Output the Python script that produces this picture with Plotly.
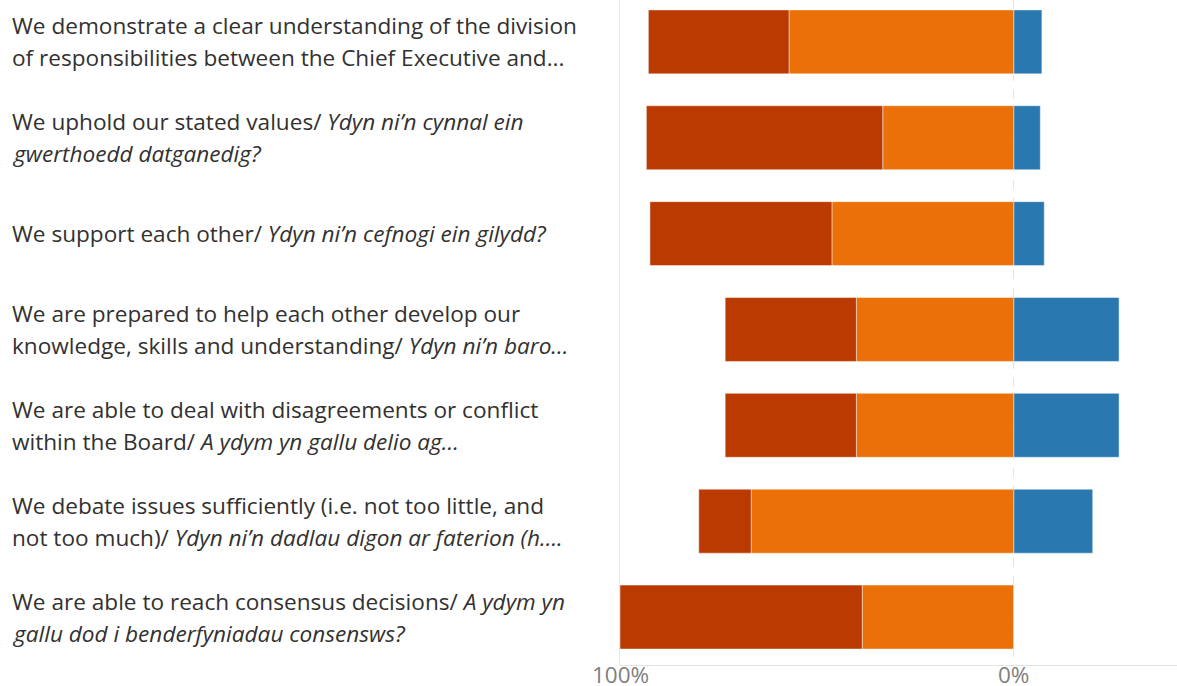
import plotly.graph_objects as go

questions = [
    "We demonstrate a clear understanding of the division<br>of responsibilities between the Chief Executive and...",
    "We uphold our stated values/ <i>Ydyn ni’n cynnal ein</i><br><i>gwerthoedd datganedig?</i>",
    "We support each other/ <i>Ydyn ni’n cefnogi ein gilydd?</i>",
    "We are prepared to help each other develop our<br>knowledge, skills and understanding/ <i>Ydyn ni’n baro...</i>",
    "We are able to deal with disagreements or conflict<br>within the Board/ <i>A ydym yn gallu delio ag...</i>",
    "We debate issues sufficiently (i.e. not too little, and<br>not too much)/ <i>Ydyn ni’n dadlau digon ar faterion (h....</i>",
    "We are able to reach consensus decisions/ <i>A ydym yn</i><br><i>gallu dod i benderfyniadau consensws?</i>",
]

strongly_disagree = [35.7, 60.0, 46.2, 33.3, 33.3, 13.3, 61.5]
disagree = [57.1, 33.3, 46.2, 40.0, 40.0, 66.7, 38.5]
agree = [7.1, 6.7, 7.7, 26.7, 26.7, 20.0, 0.0]

tick_vals = [-100, 0]
tick_text = ["100%", "0%"]

DARK = "#BA3A02"
ORANGE = "#EA7007"
BLUE = "#2A78B0"
LINE = dict(width=1, color="rgba(255,255,255,0.45)")
FONT = "Open Sans, Noto Sans, sans-serif"

fig = go.Figure()
fig.add_trace(go.Bar(y=questions, x=[-v for v in disagree], orientation="h",
                     marker=dict(color=ORANGE, line=LINE), name="Disagree"))
fig.add_trace(go.Bar(y=questions, x=[-v for v in strongly_disagree], orientation="h",
                     marker=dict(color=DARK, line=LINE), name="Strongly disagree"))
fig.add_trace(go.Bar(y=questions, x=agree, orientation="h",
                     marker=dict(color=BLUE, line=LINE), name="Agree"))

LINE_H = 32
for q in questions:
    lines = q.split("<br>")
    n = len(lines)
    for i, ln in enumerate(lines):
        fig.add_annotation(xref="paper", yref="y", x=10 / 1177, y=q, text=ln,
                           yshift=((n - 1) / 2 - i) * LINE_H,
                           showarrow=False, xanchor="left", yanchor="middle", align="left",
                           font=dict(family=FONT, size=22.6, color="#323130"))

# x tick labels (placed as text just under the axis line)
for v, t in zip(tick_vals, tick_text):
    fig.add_annotation(xref="x", yref="paper", x=v, y=0, text=t, yshift=-9,
                       showarrow=False, xanchor="center", yanchor="middle",
                       font=dict(family=FONT, size=22.5, color="#808080"))

fig.update_layout(
    width=1177, height=686,
    margin=dict(l=0, r=0, t=0, b=21, autoexpand=False),
    barmode="relative", bargap=0.333,
    showlegend=False,
    plot_bgcolor="white", paper_bgcolor="white",
    xaxis=dict(domain=[620 / 1177, 1], range=[-100, 41.4], automargin=False,
               tickvals=tick_vals, ticktext=tick_text, showticklabels=False,
               showgrid=True, gridcolor="#e3e3e3", griddash="dash", gridwidth=1,
               zeroline=False, showline=True, linecolor="#e3e3e3", linewidth=1,
               ticks=""),
    yaxis=dict(type="category", categoryorder="array", categoryarray=questions,
               range=[6.5, -0.437], showticklabels=False, showgrid=False, automargin=False,
               zeroline=False, showline=True, linecolor="#e6e6e6", linewidth=1),
)

fig.write_html("out.html", config={"displayModeBar": False},
               post_script="document.body.style.margin='0px';")
